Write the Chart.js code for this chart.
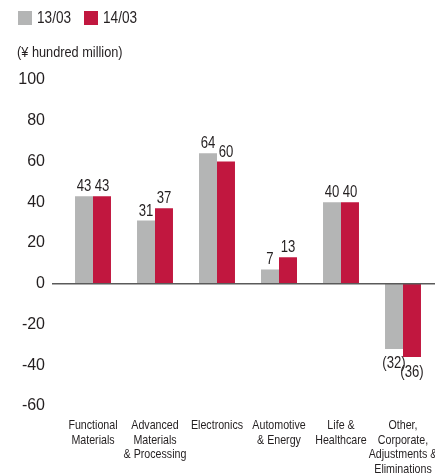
<!DOCTYPE html>
<html>
<head>
<meta charset="utf-8">
<script src="https://cdn.jsdelivr.net/npm/chart.js@4/dist/chart.umd.min.js"></script>
<style>
html,body{margin:0;padding:0;background:#fff;}
#wrap{width:435px;height:475px;}
</style>
</head>
<body>
<div id="wrap"><canvas id="c" width="435" height="475"></canvas></div>
<script>
const categories = [
  ['Functional','Materials'],
  ['Advanced','Materials','& Processing'],
  ['Electronics'],
  ['Automotive','& Energy'],
  ['Life &','Healthcare'],
  ['Other,','Corporate,','Adjustments &','Eliminations']
];
const seriesNames = ['13/03','14/03'];
const values1303 = [43, 31, 64, 7, 40, -32];
const values1403 = [43, 37, 60, 13, 40, -36];
const yMin = -60, yMax = 100, yStep = 20;
const unitLabel = '(¥ hundred million)';

const GRAY = '#b4b5b5';
const RED = '#c1173f';
const TEXT = '#231f20';
const FONT = '"Liberation Sans", Arial, sans-serif';

function fmt(v){ return v < 0 ? '(' + Math.abs(v) + ')' : String(v); }

function narrowText(ctx, txt, x, y, sx){
  ctx.save();
  ctx.translate(x, y);
  ctx.scale(sx, 1);
  ctx.fillText(txt, 0, 0);
  ctx.restore();
}

const overlay = {
  id: 'overlay',
  afterDatasetsDraw(chart){
    const ctx = chart.ctx;
    const x = chart.scales.x, y = chart.scales.y;
    const y0 = y.getPixelForValue(0);
    ctx.save();
    // zero line
    ctx.strokeStyle = '#5a5a5a';
    ctx.lineWidth = 1.5;
    ctx.beginPath();
    ctx.moveTo(52, y0);
    ctx.lineTo(chart.width, y0);
    ctx.stroke();
    // value labels
    ctx.fillStyle = TEXT;
    ctx.font = '16px ' + FONT;
    ctx.textAlign = 'center';
    chart.data.datasets.forEach((ds, di) => {
      const meta = chart.getDatasetMeta(di);
      meta.data.forEach((bar, i) => {
        const v = ds.data[i];
        if (v >= 0) {
          ctx.textBaseline = 'alphabetic';
          narrowText(ctx, fmt(v), bar.x, bar.y - 5, 0.82);
        } else {
          ctx.textBaseline = 'top';
          narrowText(ctx, fmt(v), bar.x, bar.y + 7, 0.82);
        }
      });
    });
    // category labels
    ctx.font = '13px ' + FONT;
    ctx.textBaseline = 'alphabetic';
    categories.forEach((lines, i) => {
      const cx = x.getPixelForValue(i);
      lines.forEach((ln, k) => {
        narrowText(ctx, ln, cx, 429 + k * 14.7, 0.82);
      });
    });
    // legend
    const colors = [GRAY, RED];
    const lx = [18, 84];
    ctx.font = '16px ' + FONT;
    ctx.textAlign = 'left';
    ctx.textBaseline = 'middle';
    seriesNames.forEach((n, i) => {
      ctx.fillStyle = colors[i];
      ctx.fillRect(lx[i], 11, 14, 14);
      ctx.fillStyle = TEXT;
      narrowText(ctx, n, lx[i] + 19, 18.5, 0.85);
    });
    // unit label
    ctx.font = '15px ' + FONT;
    narrowText(ctx, unitLabel, 17, 53, 0.85);
    ctx.restore();
  }
};

new Chart(document.getElementById('c'), {
  type: 'bar',
  data: {
    labels: categories.map(c => c.join(' ')),
    datasets: [
      { label: seriesNames[0], data: values1303, backgroundColor: GRAY, borderWidth: 0 },
      { label: seriesNames[1], data: values1403, backgroundColor: RED, borderWidth: 0 }
    ]
  },
  options: {
    responsive: false,
    animation: false,
    devicePixelRatio: 1,
    layout: { padding: { top: 80, bottom: 69, left: 0, right: 1 } },
    datasets: { bar: { categoryPercentage: 0.58, barPercentage: 1.0 } },
    plugins: { legend: { display: false }, tooltip: { enabled: false } },
    scales: {
      x: { display: false, offset: true },
      y: {
        min: yMin, max: yMax,
        afterFit(s){ s.width = 62; },
        border: { display: false },
        grid: { display: false, drawTicks: false },
        ticks: {
          stepSize: yStep,
          padding: 17,
          color: TEXT,
          font: { family: FONT, size: 16 }
        }
      }
    }
  },
  plugins: [overlay]
});
</script>
</body>
</html>
